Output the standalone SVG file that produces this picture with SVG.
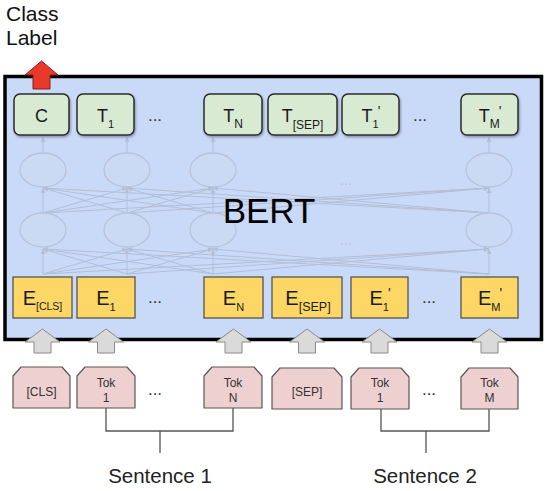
<svg xmlns="http://www.w3.org/2000/svg" width="550" height="491" viewBox="0 0 550 491">
<defs>
<style>
text{font-family:"Liberation Sans",Arial,sans-serif;}
.lbl{font-size:21px;fill:#111;}
.sent{font-size:20.5px;fill:#222;text-anchor:middle;}
.tb{fill:#d9ead3;stroke:#2b2b2b;stroke-width:1.5;}
.tt{font-size:18px;fill:#1a1a1a;text-anchor:middle;}
.eb{fill:#fcd766;stroke:#4a4a4a;stroke-width:1.2;}
.et{font-size:20px;fill:#1a1a1a;text-anchor:middle;}
.kb{fill:#efd0d0;stroke:#5e5555;stroke-width:1.2;stroke-linejoin:round;}
.kt{font-size:12px;fill:#333;text-anchor:middle;}
.dots{font-size:17px;fill:#333;text-anchor:middle;}
.fdots{font-size:15px;fill:#b9c4dc;text-anchor:middle;}
.ga{fill:#dadada;stroke:#8a8a8a;stroke-width:1;}
.nl{stroke:#b3bed7;stroke-width:1;fill:none;}
.el{fill:#cad9f4;stroke:#b8c3da;stroke-width:1.3;}
.br{stroke:#555;stroke-width:1.3;fill:none;}
</style>
<filter id="sh" x="-20%" y="-20%" width="140%" height="150%">
<feDropShadow dx="1" dy="1.5" stdDeviation="1" flood-color="#000" flood-opacity="0.35"/>
</filter>
<marker id="ah" viewBox="0 0 6 6" refX="6" refY="3" markerWidth="5" markerHeight="5" orient="auto" markerUnits="userSpaceOnUse">
<path d="M0,0 L6,3 L0,6 Z" fill="#b3bed7"/>
</marker>
</defs>

<text class="lbl" x="6" y="21">Class</text>
<text class="lbl" x="6" y="45">Label</text>

<g id="bert">
<rect x="5" y="76.5" width="536.5" height="263" fill="#c9daf8" stroke="#000" stroke-width="3.5"/>
</g>

<g id="connectors">
<g class="nl" marker-end="url(#ah)">
<line x1="43" y1="153" x2="43" y2="137"/>
<line x1="127" y1="153" x2="127" y2="137"/>
<line x1="213" y1="153" x2="213" y2="137"/>
<line x1="489" y1="153" x2="489" y2="137"/>

<line x1="43" y1="213" x2="43" y2="188"/>
<line x1="43" y1="213" x2="127" y2="188"/>
<line x1="43" y1="213" x2="213" y2="188"/>
<line x1="43" y1="213" x2="489" y2="188"/>
<line x1="127" y1="213" x2="43" y2="188"/>
<line x1="127" y1="213" x2="127" y2="188"/>
<line x1="127" y1="213" x2="213" y2="188"/>
<line x1="127" y1="213" x2="489" y2="188"/>
<line x1="213" y1="213" x2="43" y2="188"/>
<line x1="213" y1="213" x2="127" y2="188"/>
<line x1="213" y1="213" x2="213" y2="188"/>
<line x1="213" y1="213" x2="489" y2="188"/>
<line x1="489" y1="213" x2="43" y2="188"/>
<line x1="489" y1="213" x2="127" y2="188"/>
<line x1="489" y1="213" x2="213" y2="188"/>
<line x1="489" y1="213" x2="489" y2="188"/>

<line x1="43" y1="274" x2="43" y2="249"/>
<line x1="43" y1="274" x2="127" y2="249"/>
<line x1="43" y1="274" x2="213" y2="249"/>
<line x1="43" y1="274" x2="489" y2="249"/>
<line x1="127" y1="274" x2="43" y2="249"/>
<line x1="127" y1="274" x2="127" y2="249"/>
<line x1="127" y1="274" x2="213" y2="249"/>
<line x1="127" y1="274" x2="489" y2="249"/>
<line x1="213" y1="274" x2="43" y2="249"/>
<line x1="213" y1="274" x2="127" y2="249"/>
<line x1="213" y1="274" x2="213" y2="249"/>
<line x1="213" y1="274" x2="489" y2="249"/>
<line x1="489" y1="274" x2="43" y2="249"/>
<line x1="489" y1="274" x2="127" y2="249"/>
<line x1="489" y1="274" x2="213" y2="249"/>
<line x1="489" y1="274" x2="489" y2="249"/>
</g>
<path d="M41.5,61 L58,75 L50,75 L50,89 L33,89 L33,75 L25,75 Z" fill="#e8392a" stroke="#8e1b10" stroke-width="1" stroke-linejoin="round"/>
<path class="ga" d="M42.5,329 L60,342 L51,342 L51,353 L34,353 L34,342 L25,342 Z"/>
<path class="ga" d="M106,329 L123.5,342 L114.5,342 L114.5,353 L97.5,353 L97.5,342 L88.5,342 Z"/>
<path class="ga" d="M233.5,329 L251,342 L242,342 L242,353 L225,353 L225,342 L216,342 Z"/>
<path class="ga" d="M307,329 L324.5,342 L315.5,342 L315.5,353 L298.5,353 L298.5,342 L289.5,342 Z"/>
<path class="ga" d="M379.5,329 L397,342 L388,342 L388,353 L371,353 L371,342 L362,342 Z"/>
<path class="ga" d="M489.5,329 L507,342 L498,342 L498,353 L481,353 L481,342 L472,342 Z"/>
<path class="br" d="M106,408 V431 H233 V408 M160,431 V453"/>
<path class="br" d="M381,409 V431 H489 V409 M426,431 V453"/>
</g>

<g id="network">
<ellipse class="el" cx="43" cy="170" rx="23" ry="17"/>
<ellipse class="el" cx="127" cy="170" rx="23" ry="17"/>
<ellipse class="el" cx="213" cy="170" rx="23" ry="17"/>
<ellipse class="el" cx="489" cy="170" rx="23" ry="17"/>
<ellipse class="el" cx="43" cy="230" rx="23" ry="17"/>
<ellipse class="el" cx="127" cy="230" rx="23" ry="17"/>
<ellipse class="el" cx="213" cy="230" rx="23" ry="17"/>
<ellipse class="el" cx="489" cy="230" rx="23" ry="17"/>
<text class="fdots" x="346" y="185">...</text>
<text class="fdots" x="346" y="245">...</text>
</g>

<g id="bert-label">
<text x="269" y="223" font-size="35" fill="#000" text-anchor="middle">BERT</text>
</g>

<g id="output-tokens">
<g id="t-c"><rect class="tb" filter="url(#sh)" x="14" y="94" width="55" height="41" rx="6"/><text class="tt" x="41.5" y="122">C</text></g>
<g id="t-1"><rect class="tb" filter="url(#sh)" x="77" y="94" width="57" height="41" rx="6"/><text class="tt" x="105.5" y="122">T<tspan font-size="11" dy="6">1</tspan></text></g>
<text class="dots" x="155" y="121">...</text>
<g id="t-n"><rect class="tb" filter="url(#sh)" x="204" y="94" width="58" height="41" rx="6"/><text class="tt" x="233" y="122">T<tspan font-size="12" dy="6">N</tspan></text></g>
<g id="t-sep"><rect class="tb" filter="url(#sh)" x="268" y="94" width="69" height="41" rx="6"/><text class="tt" x="302.5" y="122">T<tspan font-size="12" dy="7">[SEP]</tspan></text></g>
<g id="t-1p"><rect class="tb" filter="url(#sh)" x="342" y="94" width="57" height="41" rx="6"/><text class="tt" x="371" y="122">T<tspan font-size="11" dy="6">1</tspan><tspan font-size="14" dx="-1" dy="-12">'</tspan></text></g>
<text class="dots" x="420" y="121">...</text>
<g id="t-mp"><rect class="tb" filter="url(#sh)" x="461" y="94" width="57" height="41" rx="6"/><text class="tt" x="490" y="122">T<tspan font-size="12" dy="6">M</tspan><tspan font-size="14" dx="-1" dy="-12">'</tspan></text></g>
</g>

<g id="embeddings">
<g id="e-cls"><rect class="eb" x="13" y="277" width="59" height="41"/><text class="et" x="42.5" y="305">E<tspan font-size="10.5" dy="5">[CLS]</tspan></text></g>
<g id="e-1"><rect class="eb" x="77" y="277" width="58" height="41"/><text class="et" x="106" y="305">E<tspan font-size="11" dy="6">1</tspan></text></g>
<text class="dots" x="155" y="303">...</text>
<g id="e-n"><rect class="eb" x="204" y="277" width="59" height="41"/><text class="et" x="233.5" y="305">E<tspan font-size="11" dy="6">N</tspan></text></g>
<g id="e-sep"><rect class="eb" x="272" y="277" width="70" height="41"/><text class="et" x="308" y="305">E<tspan font-size="12.5" dy="6">[SEP]</tspan></text></g>
<g id="e-1p"><rect class="eb" x="351" y="277" width="57" height="41"/><text class="et" x="380" y="305">E<tspan font-size="11" dy="6">1</tspan><tspan font-size="14" dx="-1" dy="-13">'</tspan></text></g>
<text class="dots" x="429" y="303">...</text>
<g id="e-mp"><rect class="eb" x="461" y="277" width="57" height="41"/><text class="et" x="490" y="305">E<tspan font-size="11" dy="6">M</tspan><tspan font-size="14" dx="-1" dy="-13">'</tspan></text></g>
</g>

<g id="input-tokens">
<g id="k-cls"><path class="kb" d="M13,408 V376 L21,367 H62 L70,376 V408 Z"/><text class="kt" x="41.5" y="396" font-size="11">[CLS]</text></g>
<g id="k-1"><path class="kb" d="M77,408 V376 L85,367 H127 L135,376 V408 Z"/><text class="kt" x="106" y="387">Tok</text><text class="kt" x="106" y="402">1</text></g>
<text class="dots" x="155" y="395">...</text>
<g id="k-n"><path class="kb" d="M204,408 V376 L212,367 H254 L262,376 V408 Z"/><text class="kt" x="233" y="387">Tok</text><text class="kt" x="233" y="402">N</text></g>
<g id="k-sep"><path class="kb" d="M272,409 V377 L280,368 H334 L342,377 V409 Z"/><text class="kt" x="307" y="396">[SEP]</text></g>
<g id="k-1p"><path class="kb" d="M351,409 V377 L359,368 H401 L409,377 V409 Z"/><text class="kt" x="380" y="387">Tok</text><text class="kt" x="380" y="402">1</text></g>
<text class="dots" x="429" y="395">...</text>
<g id="k-m"><path class="kb" d="M461,409 V377 L469,368 H510 L518,377 V409 Z"/><text class="kt" x="489.5" y="387">Tok</text><text class="kt" x="489.5" y="402">M</text></g>
</g>

<text class="sent" x="160" y="483">Sentence 1</text>
<text class="sent" x="425" y="483">Sentence 2</text>
</svg>
